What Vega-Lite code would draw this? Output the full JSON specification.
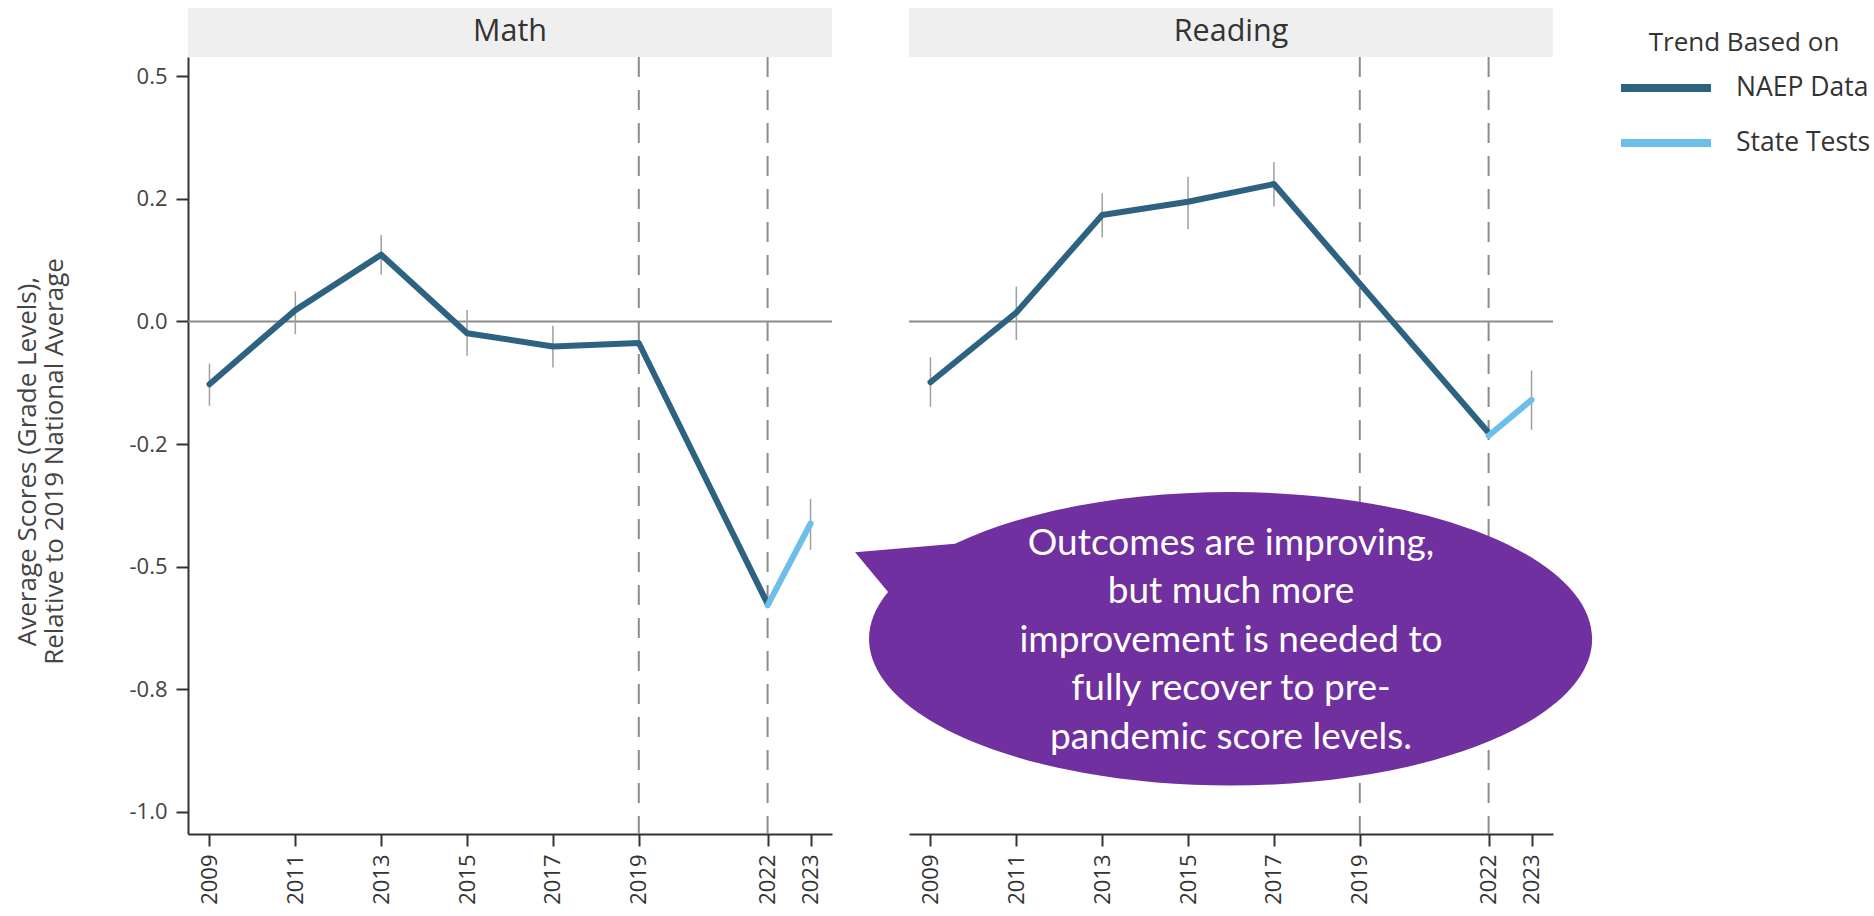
{
  "$schema": "https://vega.github.io/schema/vega-lite/v6.json",
  "background": "white",
  "padding": {"left": 14, "top": 7, "right": 5, "bottom": 5},
  "config": {
    "view": {"stroke": null},
    "font": "Open Sans",
    "axis": {"domainColor": "#333333", "domainWidth": 2, "tickColor": "#333333", "tickWidth": 2, "tickSize": 12, "labelFont": "Open Sans", "labelFontSize": 22, "labelColor": "#444444", "grid": false, "titleFont": "Open Sans", "titleFontSize": 26, "titleFontWeight": "normal", "titleColor": "#444444", "labelPadding": 8}
  },
  "data": {"values": [
    {"subject": "Math", "source": "NAEP Data", "year": 2009, "value": -0.128, "lo": -0.172, "hi": -0.086},
    {"subject": "Math", "source": "NAEP Data", "year": 2011, "value": 0.023, "lo": -0.026, "hi": 0.061},
    {"subject": "Math", "source": "NAEP Data", "year": 2013, "value": 0.136, "lo": 0.095, "hi": 0.176},
    {"subject": "Math", "source": "NAEP Data", "year": 2015, "value": -0.024, "lo": -0.070, "hi": 0.023},
    {"subject": "Math", "source": "NAEP Data", "year": 2017, "value": -0.051, "lo": -0.094, "hi": -0.009},
    {"subject": "Math", "source": "NAEP Data", "year": 2019, "value": -0.044, "lo": null, "hi": null},
    {"subject": "Math", "source": "NAEP Data", "year": 2022, "value": -0.576, "lo": null, "hi": null},
    {"subject": "Math", "source": "State Tests", "year": 2022, "value": -0.579, "lo": null, "hi": null},
    {"subject": "Math", "source": "State Tests", "year": 2023, "value": -0.412, "lo": -0.466, "hi": -0.362},
    {"subject": "Reading", "source": "NAEP Data", "year": 2009, "value": -0.124, "lo": -0.174, "hi": -0.073},
    {"subject": "Reading", "source": "NAEP Data", "year": 2011, "value": 0.018, "lo": -0.038, "hi": 0.071},
    {"subject": "Reading", "source": "NAEP Data", "year": 2013, "value": 0.217, "lo": 0.171, "hi": 0.261},
    {"subject": "Reading", "source": "NAEP Data", "year": 2015, "value": 0.244, "lo": 0.188, "hi": 0.295},
    {"subject": "Reading", "source": "NAEP Data", "year": 2017, "value": 0.280, "lo": 0.234, "hi": 0.325},
    {"subject": "Reading", "source": "NAEP Data", "year": 2019, "value": 0.077, "lo": null, "hi": null},
    {"subject": "Reading", "source": "NAEP Data", "year": 2022, "value": -0.227, "lo": null, "hi": null},
    {"subject": "Reading", "source": "State Tests", "year": 2022, "value": -0.233, "lo": null, "hi": null},
    {"subject": "Reading", "source": "State Tests", "year": 2023, "value": -0.160, "lo": -0.221, "hi": -0.100}
  ]},
  "spacing": 77,
  "bounds": "flush",
  "resolve": {"scale": {"x": "independent", "y": "independent"}},
  "hconcat": [
    {
      "width": 644,
      "height": 777,
      "layer": [
        {
          "data": {"values": [{}]},
          "mark": {"type": "rect", "color": "#efefef"},
          "encoding": {
            "x": {"datum": 2008.5, "type": "quantitative"},
            "x2": {"datum": 2023.5},
            "y": {"datum": 0.639, "type": "quantitative"},
            "y2": {"datum": 0.539}
          }
        },
        {
          "data": {"values": [{}]},
          "mark": {"type": "text", "fontSize": 30.5, "font": "Open Sans", "color": "#333333", "align": "center", "baseline": "middle"},
          "encoding": {
            "x": {"datum": 2016, "type": "quantitative"},
            "y": {"datum": 0.589, "type": "quantitative"},
            "text": {"value": "Math"}
          }
        },
        {
          "data": {"values": [{}]},
          "mark": {"type": "rule", "color": "#8c8c8c", "strokeWidth": 2},
          "encoding": {"y": {"datum": 0, "type": "quantitative"}}
        },
        {
          "data": {"values": [{"year": 2019}, {"year": 2022}]},
          "mark": {"type": "rule", "color": "#8c8c8c", "strokeWidth": 2, "strokeDash": [20, 13]},
          "encoding": {"x": {"field": "year", "type": "quantitative"}}
        },
        {
          "transform": [{"filter": "datum.subject == 'Math' && datum.lo != null"}],
          "mark": {"type": "rule", "color": "#a0a0a0", "strokeWidth": 1.5},
          "encoding": {
            "x": {"field": "year", "type": "quantitative"},
            "y": {"field": "lo", "type": "quantitative"},
            "y2": {"field": "hi"}
          }
        },
        {
          "transform": [{"filter": "datum.subject == 'Math'"}],
          "mark": {"type": "line", "strokeWidth": 6, "strokeCap": "round", "strokeJoin": "round"},
          "encoding": {
            "x": {"field": "year", "type": "quantitative",
              "scale": {"domain": [2008.5, 2023.5], "nice": false, "zero": false},
              "axis": {"values": [2009, 2011, 2013, 2015, 2017, 2019, 2022, 2023], "format": "d", "labelAngle": -90, "title": null, "labelPadding": 8, "labelColor": "#333333"}},
            "y": {"field": "value", "type": "quantitative",
              "scale": {"domain": [-1.045, 0.539], "nice": false, "zero": false},
              "axis": {"values": [0.5, 0.25, 0, -0.25, -0.5, -0.75, -1], "labelExpr": "datum.value == 0.5 ? '0.5' : datum.value == 0.25 ? '0.2' : datum.value == 0 ? '0.0' : datum.value == -0.25 ? '-0.2' : datum.value == -0.5 ? '-0.5' : datum.value == -0.75 ? '-0.8' : '-1.0'",
                "title": ["Average Scores (Grade Levels),", "Relative to 2019 National Average"], "titlePadding": 61, "titleLineHeight": 27, "titleY": 404, "labelPadding": 9}},
            "color": {"field": "source", "type": "nominal",
              "scale": {"domain": ["NAEP Data", "State Tests"], "range": ["#2d6381", "#6bbfe8"]},
              "legend": {"title": "Trend Based on", "orient": "none", "legendX": 1429, "legendY": -27, "symbolType": "stroke", "symbolStrokeWidth": 8, "symbolSize": 8100, "clipHeight": 34, "labelFontSize": 26.5, "labelFont": "Open Sans", "titleFont": "Open Sans", "titleFontSize": 26, "titleFontWeight": "normal", "titleColor": "#333333", "labelColor": "#333333", "titleAnchor": "middle", "titleLimit": 500, "labelLimit": 300, "titlePadding": 15, "rowPadding": 21, "labelOffset": 21, "padding": 0}}
          }
        }
      ]
    },
    {
      "width": 644,
      "height": 777,
      "layer": [
        {
          "data": {"values": [{}]},
          "mark": {"type": "rect", "color": "#efefef"},
          "encoding": {
            "x": {"datum": 2008.5, "type": "quantitative"},
            "x2": {"datum": 2023.5},
            "y": {"datum": 0.639, "type": "quantitative", "axis": null},
            "y2": {"datum": 0.539}
          }
        },
        {
          "data": {"values": [{}]},
          "mark": {"type": "text", "fontSize": 30.5, "font": "Open Sans", "color": "#333333", "align": "center", "baseline": "middle"},
          "encoding": {
            "x": {"datum": 2016, "type": "quantitative"},
            "y": {"datum": 0.589, "type": "quantitative", "axis": null},
            "text": {"value": "Reading"}
          }
        },
        {
          "data": {"values": [{}]},
          "mark": {"type": "rule", "color": "#8c8c8c", "strokeWidth": 2},
          "encoding": {"y": {"datum": 0, "type": "quantitative", "axis": null}}
        },
        {
          "data": {"values": [{"year": 2019}, {"year": 2022}]},
          "mark": {"type": "rule", "color": "#8c8c8c", "strokeWidth": 2, "strokeDash": [20, 13]},
          "encoding": {"x": {"field": "year", "type": "quantitative"}}
        },
        {
          "transform": [{"filter": "datum.subject == 'Reading' && datum.lo != null"}],
          "mark": {"type": "rule", "color": "#a0a0a0", "strokeWidth": 1.5},
          "encoding": {
            "x": {"field": "year", "type": "quantitative"},
            "y": {"field": "lo", "type": "quantitative", "axis": null},
            "y2": {"field": "hi"}
          }
        },
        {
          "transform": [{"filter": "datum.subject == 'Reading'"}],
          "mark": {"type": "line", "strokeWidth": 6, "strokeCap": "round", "strokeJoin": "round"},
          "encoding": {
            "x": {"field": "year", "type": "quantitative",
              "scale": {"domain": [2008.5, 2023.5], "nice": false, "zero": false},
              "axis": {"values": [2009, 2011, 2013, 2015, 2017, 2019, 2022, 2023], "format": "d", "labelAngle": -90, "title": null, "labelPadding": 8, "labelColor": "#333333"}},
            "y": {"field": "value", "type": "quantitative",
              "scale": {"domain": [-1.045, 0.539], "nice": false, "zero": false},
              "axis": null},
            "color": {"field": "source", "type": "nominal",
              "scale": {"domain": ["NAEP Data", "State Tests"], "range": ["#2d6381", "#6bbfe8"]},
              "legend": {"title": "Trend Based on", "orient": "none", "legendX": 1429, "legendY": -27, "symbolType": "stroke", "symbolStrokeWidth": 8, "symbolSize": 8100, "clipHeight": 34, "labelFontSize": 26.5, "labelFont": "Open Sans", "titleFont": "Open Sans", "titleFontSize": 26, "titleFontWeight": "normal", "titleColor": "#333333", "labelColor": "#333333", "titleAnchor": "middle", "titleLimit": 500, "labelLimit": 300, "titlePadding": 15, "rowPadding": 21, "labelOffset": 21, "padding": 0}}
          }
        },
        {
          "data": {"values": [{}]},
          "mark": {"type": "point", "shape": "M -1 -0.2306 L -0.7337 -0.2530 A 0.9627 0.3907 0 1 1 -0.9121 -0.1250 Z", "size": 564001, "filled": true, "fill": "#7030a0", "opacity": 1, "strokeWidth": 0},
          "encoding": {
            "x": {"datum": 2015.99, "type": "quantitative"},
            "y": {"datum": -0.6471, "type": "quantitative", "axis": null}
          }
        },
        {
          "data": {"values": [{}]},
          "mark": {"type": "text", "font": "Lato", "fontSize": 37, "color": "#ffffff", "align": "center", "baseline": "middle", "lineHeight": 48.5},
          "encoding": {
            "x": {"datum": 2016.0, "type": "quantitative"},
            "y": {"datum": -0.4533, "type": "quantitative", "axis": null},
            "text": {"value": ["Outcomes are improving,", "but much more", "improvement is needed to", "fully recover to pre-", "pandemic score levels."]}
          }
        }
      ]
    }
  ]
}
